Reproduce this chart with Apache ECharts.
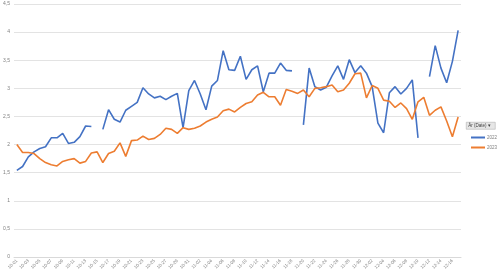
<!DOCTYPE html>
<html>
<head>
<meta charset="utf-8">
<script src="https://cdn.jsdelivr.net/npm/echarts@6/dist/echarts.min.js"></script>
<style>
html,body{margin:0;padding:0;background:#fff;}
#chart{width:500px;height:277px;}
</style>
</head>
<body>
<div id="chart"></div>
<script>
const categories = [
'10-01','10-02','10-03','10-04','10-05','10-06','10-07','10-08','10-09','10-10',
'10-11','10-12','10-13','10-14','10-15','10-16','10-17','10-18','10-19','10-20',
'10-21','10-22','10-23','10-24','10-25','10-26','10-27','10-28','10-29','10-30',
'10-31','11-01','11-02','11-03','11-04','11-05','11-06','11-07','11-08','11-09',
'11-10','11-11','11-12','11-13','11-14','11-15','11-16','11-17','11-18','11-19',
'11-20','11-21','11-22','11-23','11-24','11-25','11-26','11-27','11-28','11-29',
'11-30','12-01','12-02','12-03','12-04','12-05','12-06','12-07','12-08','12-09',
'12-10','12-11','12-12','12-13','12-14','12-15','12-16','12-17'
];
const series2022 = [
1.54,1.61,1.78,1.87,1.93,1.96,2.12,2.12,2.20,2.02,
2.04,2.14,2.33,2.32,null,2.27,2.62,2.45,2.40,2.61,
2.68,2.75,3.01,2.90,2.83,2.86,2.80,2.86,2.91,2.30,
2.96,3.14,2.90,2.62,3.04,3.14,3.67,3.33,3.32,3.57,
3.16,3.33,3.40,2.94,3.27,3.27,3.45,3.32,3.31,null,
2.35,3.36,3.03,2.97,3.02,3.22,3.40,3.16,3.51,3.28,
3.40,3.27,3.03,2.38,2.21,2.92,3.03,2.90,3.00,3.15,
2.12,null,3.21,3.76,3.36,3.10,3.48,4.03
];
const series2023 = [
2.00,1.86,1.86,1.84,1.75,1.68,1.64,1.62,1.70,1.73,
1.75,1.67,1.70,1.85,1.87,1.68,1.84,1.88,2.03,1.79,
2.07,2.08,2.15,2.09,2.11,2.18,2.29,2.27,2.20,2.30,
2.27,2.29,2.33,2.40,2.45,2.49,2.60,2.63,2.58,2.66,
2.73,2.76,2.88,2.93,2.85,2.85,2.70,2.98,2.95,2.91,
2.97,2.85,3.00,3.01,3.03,3.06,2.94,2.97,3.09,3.26,
3.27,2.83,3.05,3.00,2.79,2.77,2.66,2.74,2.64,2.45,
2.76,2.84,2.52,2.61,2.67,2.42,2.14,2.49
];
const seriesNames = ['2022','2023'];
const filterLabel = 'År (Date) ▾';

const chart = echarts.init(document.getElementById('chart'), null, {renderer:'canvas'});
const fontFam = '"Liberation Sans", Arial, sans-serif';
chart.setOption({
  animation:false,
  backgroundColor:'#ffffff',
  grid:{left:14, right:39, top:4, bottom:20, containLabel:false},
  xAxis:{
    type:'category',
    data:categories,
    boundaryGap:true,
    axisLine:{show:true, lineStyle:{color:'#d9d9d9', width:1}},
    axisTick:{show:false},
    axisLabel:{interval:1, rotate:45, fontSize:4.5, color:'#7f7f7f', margin:3, fontFamily:fontFam}
  },
  yAxis:{
    type:'value',
    min:0, max:4.5, interval:0.5,
    axisLine:{show:false},
    axisTick:{show:false},
    splitLine:{lineStyle:{color:'#e3e3e3', width:1}},
    axisLabel:{fontSize:5, color:'#7f7f7f', margin:4, fontFamily:fontFam,
      formatter:function(v){return String(v).replace('.', ',');}}
  },
  legend:{
    orient:'vertical',
    left:466, top:130,
    itemWidth:14, itemHeight:2, itemGap:5,
    icon:'rect',
    textStyle:{fontSize:4.5, color:'#7f7f7f', fontFamily:fontFam, padding:[0,0,0,-3]},
    data:seriesNames
  },
  graphic:[{
    type:'group', left:466, top:122,
    children:[
      {type:'rect', shape:{x:0,y:0,width:29,height:7}, style:{fill:'#e6e6e6', stroke:'#a6a6a6', lineWidth:0.5}},
      {type:'text', style:{x:2, y:1.5, text:filterLabel, fontSize:4.5, fill:'#404040', fontFamily:fontFam}}
    ]
  }],
  series:[
    {name:seriesNames[0], type:'line', data:series2022, showSymbol:false, connectNulls:false,
     lineStyle:{color:'#4472C4', width:1.6}, itemStyle:{color:'#4472C4'}},
    {name:seriesNames[1], type:'line', data:series2023, showSymbol:false,
     lineStyle:{color:'#ED7D31', width:1.6}, itemStyle:{color:'#ED7D31'}}
  ]
});
</script>
</body>
</html>
